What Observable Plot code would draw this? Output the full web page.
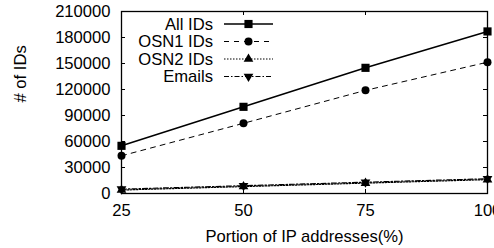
<!DOCTYPE html>
<html><head><meta charset="utf-8">
<script src="https://cdn.jsdelivr.net/npm/d3@7"></script>
<script src="https://cdn.jsdelivr.net/npm/@observablehq/plot@0.6"></script>
<style>body{margin:0;background:#fff}</style>
</head><body><div id="chart"></div>
<script>
const portions = [25, 50, 75, 100];
const allIDs = [55000, 100000, 145000, 187000];
const osn1IDs = [43500, 81000, 119000, 151500];
const osn2IDs = [4000, 8000, 12000, 16000];
const emails = [5000, 9000, 13000, 17000];
const xTicks = [25, 50, 75, 100];
const yTicks = [0, 30000, 60000, 90000, 120000, 150000, 180000, 210000];
const seriesNames = ["All IDs", "OSN1 IDs", "OSN2 IDs", "Emails"];

const series = [
  {name: seriesNames[0], values: allIDs, dash: null, sw: 1.5, symbol: "square", r: 4.6, rotate: 0},
  {name: seriesNames[1], values: osn1IDs, dash: "5,5", sw: 1, symbol: "circle", r: 4, rotate: 0},
  {name: seriesNames[2], values: osn2IDs, dash: "1.5,1.5", sw: 1.2, symbol: "triangle", r: 3.6, rotate: 0},
  {name: seriesNames[3], values: emails, dash: "5,2,1.5,2", sw: 1.2, symbol: "triangle", r: 3.6, rotate: 180}
];
const rows = series.flatMap(s => portions.map((p, i) => ({series: s.name, x: p, y: s.values[i]})));

const W = 494, H = 248, mL = 121, mR = 7, mT = 11, mB = 55;
const fw = W - mL - mR, fh = H - mT - mB, tl = 4;
const FONT = "'Liberation Sans', Arial, Helvetica, sans-serif";
const FS = 16.6;

const marks = [
  Plot.tickX(xTicks, {x: d => d, insetTop: fh - tl, stroke: "black"}),
  Plot.tickX(xTicks, {x: d => d, insetBottom: fh - tl, stroke: "black"}),
  Plot.tickY(yTicks, {y: d => d, insetRight: fw - tl, stroke: "black"}),
  Plot.tickY(yTicks, {y: d => d, insetLeft: fw - tl, stroke: "black"}),
  Plot.axisX({ticks: xTicks, tickSize: 0, tickPadding: 11, tickFormat: d => String(d), label: null}),
  Plot.axisY({ticks: yTicks, tickSize: 0, tickPadding: 11, tickFormat: d => String(d), label: null}),
  Plot.frame({stroke: "black", strokeWidth: 1.3}),
  Plot.text(["Portion of IP addresses(%)"], {frameAnchor: "bottom", dy: 48, lineAnchor: "bottom", text: d => d}),
  Plot.text(["# of IDs"], {frameAnchor: "left", dx: -101, rotate: -90, text: d => d})
];
for (const s of series) {
  const d = rows.filter(r => r.series === s.name);
  marks.push(Plot.line(d, {x: "x", y: "y", stroke: "black", strokeWidth: s.sw, strokeDasharray: s.dash}));
  marks.push(Plot.dot(d, {x: "x", y: "y", fill: "black", stroke: "none", symbol: s.symbol, r: s.r, rotate: s.rotate}));
}

const svg = Plot.plot({
  width: W, height: H, marginLeft: mL, marginRight: mR, marginTop: mT, marginBottom: mB,
  x: {domain: [25, 100]}, y: {domain: [0, 210000]},
  style: {fontFamily: FONT, fontSize: FS + "px", background: "white", color: "black"},
  marks
});

// legend
const g = d3.select(svg).append("g").attr("class", "legend");
const legY = [24, 41.5, 59, 76.5];
const symMap = {square: d3.symbolSquare, circle: d3.symbolCircle, triangle: d3.symbolTriangle};
series.forEach((s, i) => {
  const y = legY[i];
  g.append("text").attr("x", 213).attr("y", y).attr("text-anchor", "end").attr("dy", "0.35em")
    .attr("font-family", FONT).attr("font-size", FS).text(s.name);
  g.append("line").attr("x1", 224).attr("x2", 273).attr("y1", y).attr("y2", y)
    .attr("stroke", "black").attr("stroke-width", s.sw).attr("stroke-dasharray", s.dash);
  g.append("path").attr("d", d3.symbol(symMap[s.symbol], Math.PI * s.r * s.r)())
    .attr("transform", `translate(248.5,${y}) rotate(${s.rotate})`).attr("fill", "black");
});

document.getElementById("chart").appendChild(svg);
</script></body></html>
